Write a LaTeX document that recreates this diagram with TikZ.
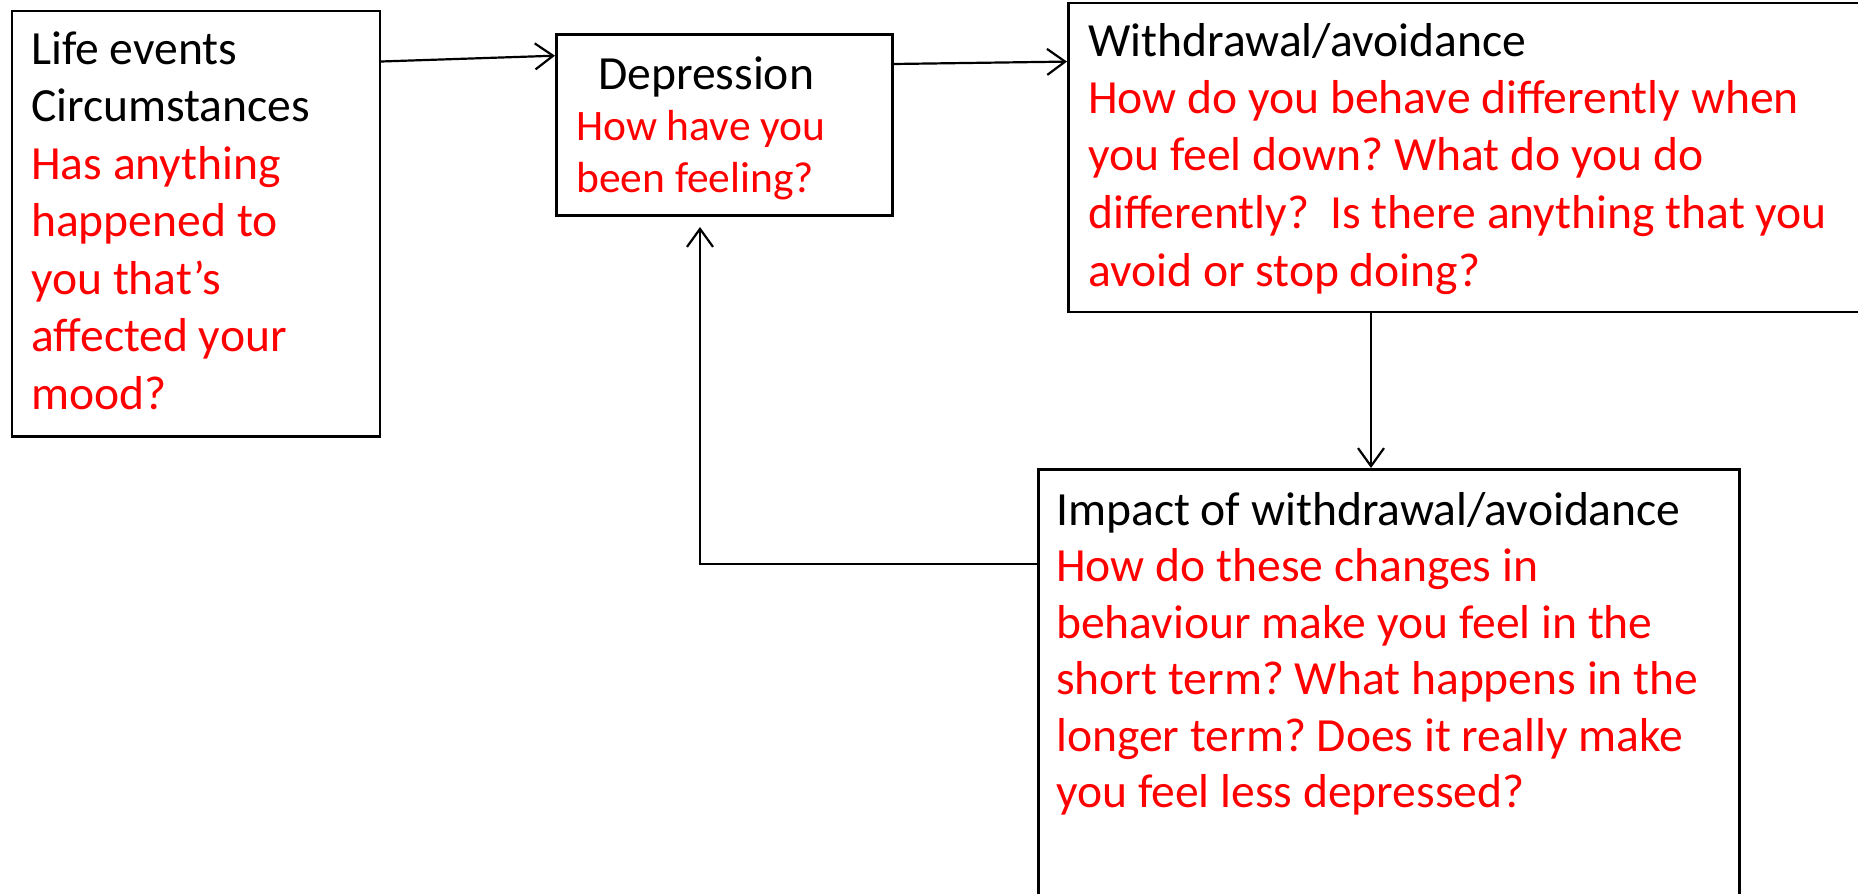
\documentclass[tikz,border=0pt]{standalone}
\usepackage{fontspec}
\setmainfont{Carlito}
\usetikzlibrary{arrows.meta,calc}
\begin{document}
\frenchspacing
\begin{tikzpicture}[x=1pt,y=-1pt,
  box/.style={draw=black,line width=2.5pt,inner sep=0pt,anchor=north west},
  txt/.style={anchor=base west,inner sep=0pt,align=flush left,font=\fontsize{47.6}{57.5}\selectfont\frenchspacing},
  arr/.style={draw=black,line width=2.2pt,-{Straight Barb[length=18pt,width=26pt,line width=2.2pt]}}]
\clip (0,0) rectangle (1858,894);
\fill[white] (0,0) rectangle (1858,894);
% boxes
\node[box,minimum width=368pt,minimum height=425.5pt] (life) at (10.7,9.5) {};
\node[box,minimum width=336pt,minimum height=181pt] (dep) at (555,33) {};
\node[box,minimum width=820pt,minimum height=309pt] (wd) at (1067,1.5) {};
\node[box,minimum width=701pt,minimum height=460pt] (imp) at (1037,468) {};
% texts
\node[txt,text width=345pt] (lifet) at (31,64) {Life events\\Circumstances\\\color{red}Has anything\\\color{red}happened to\\\color{red}you that’s\\\color{red}affected your\\\color{red}mood?};
\node[txt,text width=300pt] (dept) at (598,89) {Depression};
\node[txt,text width=300pt,font=\fontsize{43.5}{52}\selectfont,text=red] (depq) at (576,140) {How have you\\been feeling?};
\node[txt,text width=800pt] (wdt) at (1088,56) {Withdrawal/avoidance\\\color{red}How do you behave differently when\\\color{red}you feel down? What do you do\\\color{red}differently?\ \ Is there anything that you\\\color{red}avoid or stop doing?};
\node[txt,text width=700pt,font=\fontsize{47.6}{56.5}\selectfont] (impt) at (1056,525) {Impact of withdrawal/avoidance\\\color{red}How do these changes in\\\color{red}behaviour make you feel in the\\\color{red}short term? What happens in the\\\color{red}longer term? Does it really make\\\color{red}you feel less depressed?};
% connectors
\coordinate (fb) at (700,227);
\draw[arr] ($(life.north east)+(0,52)$) -- ($(dep.north west)+(0,22.7)$);
\draw[arr] ($(dep.north east)+(0,31)$) -- ($(wd.north west)+(0,60.1)$);
\draw[arr] ($(wd.south west)+(304,0)$) -- ($(imp.north west)+(334,0)$);
\draw[arr] ($(imp.north west)+(0,96)$) -| (fb);
\end{tikzpicture}
\end{document}
